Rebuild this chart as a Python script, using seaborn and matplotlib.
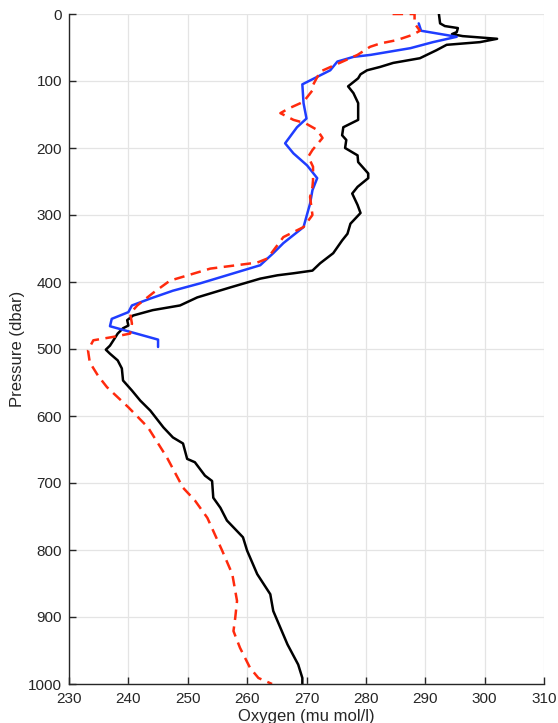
import matplotlib
matplotlib.use("Agg")
import matplotlib.pyplot as plt
import pandas as pd
import seaborn as sns

# Cast profile (black): pressure in dbar, dissolved oxygen in mu mol/l
ctd_pressure = [0, 14, 18, 21, 27, 30, 33, 37, 42, 46, 54, 66, 73, 79, 84, 90, 96,
                108, 118, 133, 158, 169, 181, 188, 200, 211, 221, 238, 245, 258,
                268, 285, 297, 313, 328, 338, 357, 372, 383, 387, 390, 395, 408,
                423, 435, 442, 450, 457, 465, 469, 477, 484, 495, 501, 507, 517,
                529, 547, 562, 577, 592, 617, 632, 641, 664, 669, 689, 697, 722,
                737, 756, 781, 801, 836, 866, 891, 941, 971, 991, 1000]
ctd_oxygen = [292.3, 292.5, 293.3, 295.5, 295.3, 294.5, 296.3, 302.1, 299.2, 293.6,
              291.9, 289.1, 284.6, 282.4, 280.2, 279.1, 278.7, 277.0, 277.9, 278.7,
              278.7, 276.2, 276.0, 276.7, 276.5, 278.6, 278.7, 280.4, 280.4, 278.6,
              277.7, 278.6, 279.1, 277.4, 276.9, 276.0, 274.5, 272.3, 271.0, 267.8,
              265.1, 262.2, 257.2, 251.6, 248.7, 244.1, 240.8, 239.8, 240.0, 239.1,
              238.2, 237.7, 236.9, 236.2, 236.9, 238.2, 238.9, 239.1, 240.6, 242.0,
              243.7, 245.9, 247.5, 249.2, 249.9, 251.2, 252.9, 254.1, 254.3, 255.5,
              256.6, 259.3, 260.0, 261.7, 263.9, 264.4, 266.8, 268.6, 269.3, 269.3]

# Float profile (blue)
float_pressure = [14, 25, 34, 42, 51, 61, 64, 71, 84, 105, 133, 156, 169, 193, 208,
                  226, 245, 263, 283, 318, 342, 357, 375, 402, 413, 425, 435, 445,
                  455, 466, 486, 497]
float_oxygen = [288.9, 289.3, 295.3, 291.3, 287.5, 280.8, 277.9, 275.2, 274.0,
                269.3, 269.5, 270.0, 268.4, 266.4, 267.8, 270.1, 271.8, 271.0,
                270.6, 269.5, 266.1, 264.4, 262.2, 252.1, 247.5, 243.6, 240.6,
                240.0, 237.2, 236.9, 245.0, 245.0]

# Climatology profile (red dashed)
clim_pressure = [0, 0, 14, 25, 31, 39, 44, 49, 61, 86, 106, 114, 131, 141, 148, 158,
                 163, 173, 185, 203, 213, 228, 248, 258, 273, 300, 318, 333, 345,
                 365, 371, 380, 398, 416, 435, 447, 462, 477, 482, 487, 502, 520,
                 540, 557, 587, 617, 662, 707, 726, 752, 801, 836, 876, 901, 921,
                 946, 976, 991, 1000]
clim_oxygen = [284.5, 288.2, 288.2, 289.1, 287.9, 285.2, 282.4, 280.7, 278.6, 272.3,
               271.1, 271.0, 269.5, 267.0, 265.6, 267.8, 269.8, 271.8, 272.7, 271.0,
               270.3, 271.1, 271.1, 271.0, 270.6, 271.0, 269.5, 266.1, 265.1, 263.4,
               261.7, 253.8, 247.0, 244.2, 241.5, 240.3, 240.6, 240.3, 237.4, 234.1,
               233.2, 233.5, 234.9, 236.4, 240.0, 243.3, 246.5, 249.2, 251.2, 253.3,
               255.8, 257.5, 258.3, 258.0, 257.7, 258.8, 260.5, 261.9, 264.2]

x_ticks = list(range(230, 311, 10))
y_ticks = list(range(0, 1001, 100))

ctd = pd.DataFrame({"oxygen": ctd_oxygen, "pressure": ctd_pressure})
flt = pd.DataFrame({"oxygen": float_oxygen, "pressure": float_pressure})
clim = pd.DataFrame({"oxygen": clim_oxygen, "pressure": clim_pressure})

sns.set_style("ticks")
plt.rcParams["font.family"] = ["Liberation Sans", "DejaVu Sans"]
ink = "#262626"

fig = plt.figure(figsize=(5.58, 7.23), dpi=100)
ax = fig.add_axes([69 / 558, 39 / 723, 475 / 558, 670 / 723])

ax.grid(True, color="#e4e4e4", linewidth=0.9)
ax.set_axisbelow(True)

common = dict(x="oxygen", y="pressure", sort=False, estimator=None, ax=ax,
              legend=False)
sns.lineplot(data=ctd, color="black", linewidth=1.8, **common)
sns.lineplot(data=flt, color="#1f3dff", linewidth=1.8, **common)
sns.lineplot(data=clim, color="#ff2a0d", linewidth=1.8,
             linestyle=(0, (4.2, 2.6)), **common)

ax.set_xlim(230, 310)
ax.set_ylim(1000, 0)
ax.set_xticks(x_ticks)
ax.set_yticks(y_ticks)

for side in ("top", "right"):
    ax.spines[side].set_visible(False)
for side in ("left", "bottom"):
    ax.spines[side].set_color(ink)
    ax.spines[side].set_linewidth(1.0)

ax.tick_params(direction="in", length=5, width=1.0, color=ink,
               labelcolor=ink, labelsize=11)
ax.tick_params(axis="y", pad=5)
ax.tick_params(axis="x", pad=6)

ax.set_xlabel("Oxygen (mu mol/l)", fontsize=12, color=ink, labelpad=2)
ax.set_ylabel("Pressure (dbar)", fontsize=12, color=ink, labelpad=2)

fig.savefig("out.png", dpi=100)
